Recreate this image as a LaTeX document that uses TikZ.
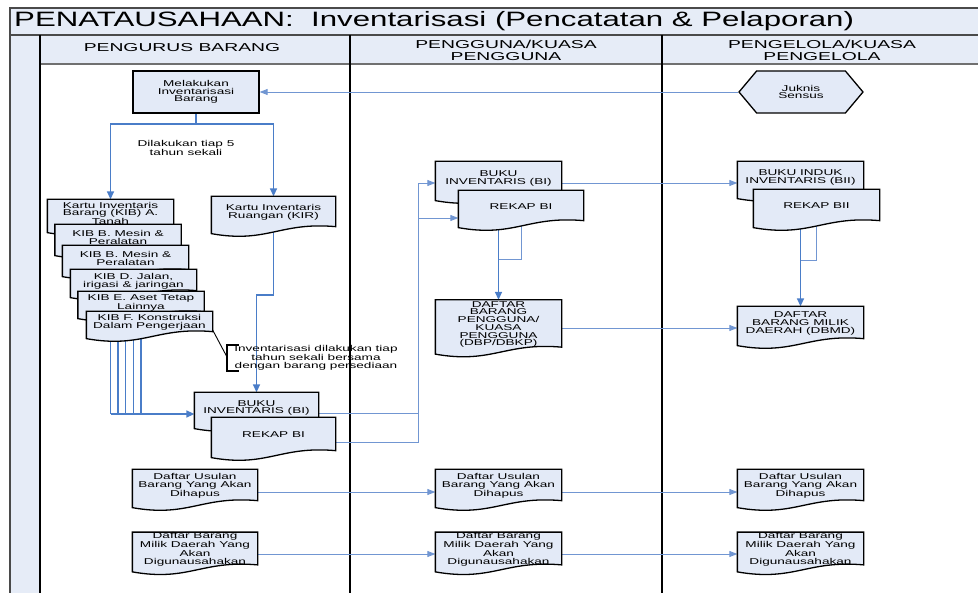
\documentclass[tikz,border=0pt]{standalone}
\usepackage{fontspec}
\setmainfont{Liberation Sans}
\newfontfamily\boxsans[FakeStretch=1.6]{Liberation Sans}
\newfontfamily\headsans[FakeStretch=1.68]{Liberation Sans}
\newfontfamily\titlesans[FakeStretch=1.5]{Liberation Sans}
\usetikzlibrary{arrows.meta,shapes.symbols}

\definecolor{paneblue}{HTML}{E6ECF7}
\definecolor{boxfill}{HTML}{E3EAF7}
\definecolor{flowblue}{HTML}{4A7DC8}
\definecolor{linkblue}{HTML}{7196D2}
\definecolor{framegray}{HTML}{4A4A4A}
\definecolor{rulegray}{HTML}{707070}

\newcommand\boxfont{\boxsans\fontsize{8.5}{7.7}\selectfont}
\newcommand\headfont{\headsans\fontsize{11.5}{12}\selectfont}
\newcommand\titlefont{\titlesans\fontsize{20.8}{24}\selectfont}

% document symbol: rectangle with a wavy lower edge
\makeatletter
\newdimen\docxa \newdimen\docya \newdimen\docxb \newdimen\docyb \newdimen\docw
\pgfdeclareshape{docpage}{
  \inheritsavedanchors[from=rectangle]
  \inheritanchorborder[from=rectangle]
  \inheritanchor[from=rectangle]{center}
  \inheritanchor[from=rectangle]{north}
  \inheritanchor[from=rectangle]{south}
  \inheritanchor[from=rectangle]{east}
  \inheritanchor[from=rectangle]{west}
  \inheritanchor[from=rectangle]{north east}
  \inheritanchor[from=rectangle]{north west}
  \inheritanchor[from=rectangle]{south east}
  \inheritanchor[from=rectangle]{south west}
  \inheritanchor[from=rectangle]{mid}
  \inheritanchor[from=rectangle]{base}
  \backgroundpath{%
    \southwest \docxa=\pgf@x \docya=\pgf@y
    \northeast \docxb=\pgf@x \docyb=\pgf@y
    \docw=\docxb \advance\docw by -\docxa
    \pgfpathmoveto{\pgfqpoint{\docxa}{\docyb}}%
    \pgfpathlineto{\pgfqpoint{\docxb}{\docyb}}%
    \pgfpathlineto{\pgfqpoint{\docxb}{\dimexpr\docya+2pt\relax}}%
    \pgfpathcurveto
      {\pgfqpoint{\dimexpr\docxa+0.55\docw\relax}{\dimexpr\docya+7pt\relax}}%
      {\pgfqpoint{\dimexpr\docxa+0.45\docw\relax}{\dimexpr\docya-15pt\relax}}%
      {\pgfqpoint{\docxa}{\dimexpr\docya-5pt\relax}}%
    \pgfpathclose
  }
}
\makeatother

\pgfdeclarelayer{background}
\pgfsetlayers{background,main}

\tikzset{
  doc/.style={shape=docpage, draw=black, line width=1.3pt, fill=boxfill,
    inner sep=0pt, align=center, font=\boxfont, minimum width=125pt},
  procbox/.style={rectangle, draw=black, line width=1.3pt, fill=boxfill,
    inner sep=0pt, align=center, font=\boxfont, minimum width=126pt, minimum height=42pt},
  prepbox/.style={signal, signal to=west and east, signal pointer angle=100,
    draw=black, line width=1.3pt, fill=boxfill, inner sep=0pt, align=center,
    font=\boxfont, minimum width=124pt, minimum height=42pt},
  flow/.style={draw=flowblue, line width=1.5pt, -{Triangle[length=8pt,width=7pt]}},
  flowplain/.style={draw=flowblue, line width=1.3pt},
  link/.style={draw=linkblue, line width=0.9pt, -{Triangle[length=8pt,width=6pt]}},
  linkplain/.style={draw=linkblue, line width=0.9pt},
  lane/.style={draw=black, line width=2pt},
}

\begin{document}
\begin{tikzpicture}[x=1pt,y=-1pt]
\useasboundingbox (0,0) rectangle (978,593);
\clip (0,0) rectangle (978,593);

% ---------- title and lane headers ----------
\node[anchor=west, font=\titlefont, inner sep=0pt] (title) at (14,21)
  {PENATAUSAHAAN:\ \ Inventarisasi (Pencatatan \& Pelaporan)};
\node[font=\headfont, align=center] (hdA) at (182,48) {PENGURUS BARANG};
\node[font=\headfont, align=center] (hdB) at (506,50) {PENGGUNA/KUASA\\PENGGUNA};
\node[font=\headfont, align=center] (hdC) at (822,50) {PENGELOLA/KUASA\\PENGELOLA};

% ---------- lane: pengurus barang ----------
\node[procbox] (mel) at (196,92) {Melakukan\\Inventarisasi\\Barang};
\node[font=\boxfont, align=center] (freq) at (186,148) {Dilakukan tiap 5\\tahun sekali};

\node[doc, minimum height=27pt] (kibA) at (110.5,213.5) {Kartu Inventaris\\Barang (KIB) A.\\Tanah};
\node[doc, minimum height=25pt] (kibB) at (118,237.5) {KIB B. Mesin \&\\Peralatan};
\node[doc, minimum height=25pt] (kibC) at (125.5,258.5) {KIB B. Mesin \&\\Peralatan};
\node[doc, minimum height=22pt] (kibD) at (133.5,281) {KIB D. Jalan,\\irigasi \& jaringan};
\node[doc, minimum height=21pt] (kibE) at (141,302.5) {KIB E. Aset Tetap\\Lainnya};
\node[doc, minimum height=21pt] (kibF) at (149.5,322.5) {KIB F. Konstruksi\\Dalam Pengerjaan};

\node[doc, minimum width=123pt, minimum height=31pt] (kir) at (273.5,212.5) {Kartu Inventaris\\Ruangan (KIR)};

\node[font=\boxfont, align=center, inner sep=0pt] (note) at (316,357.5)
  {Inventarisasi dilakukan tiap\\tahun sekali bersama\\dengan barang persediaan};
\coordinate (noteL) at (227,357);

\node[doc, minimum width=123pt, minimum height=30pt] (bip) at (256.5,408) {BUKU\\INVENTARIS (BI)};
\node[doc, minimum width=123pt, minimum height=34pt] (rkp) at (273.5,435) {REKAP BI};

\node[doc, minimum width=124pt, minimum height=32pt] (usA) at (195,486) {Daftar Usulan\\Barang Yang Akan\\Dihapus};
\node[doc, minimum width=124pt, minimum height=33pt] (guA) at (195,549.5) {Daftar Barang\\Milik Daerah Yang\\Akan\\Digunausahakan};

% ---------- lane: pengguna / kuasa pengguna ----------
\node[doc, minimum height=33pt] (big) at (498.5,178.5) {BUKU\\INVENTARIS (BI)};
\node[doc, minimum width=124pt, minimum height=31pt] (rkg) at (521,206.5) {REKAP BI};
\node[doc, minimum height=48pt] (dbp) at (498.5,324.5) {DAFTAR\\BARANG\\PENGGUNA/\\KUASA\\PENGGUNA\\(DBP/DBKP)};
\node[doc, minimum height=32pt] (usB) at (498.5,486) {Daftar Usulan\\Barang Yang Akan\\Dihapus};
\node[doc, minimum height=33pt] (guB) at (498.5,549.5) {Daftar Barang\\Milik Daerah Yang\\Akan\\Digunausahakan};

% ---------- lane: pengelola / kuasa pengelola ----------
\node[prepbox] (juk) at (801,92) {Juknis\\Sensus};
\node[doc, minimum height=31pt] (bii) at (800.5,177.5) {BUKU INDUK\\INVENTARIS (BII)};
\node[doc, minimum height=32pt] (rbii) at (816.5,206) {REKAP BII};
\node[doc, minimum height=33pt] (dbmd) at (800.5,323.5) {DAFTAR\\BARANG MILIK\\DAERAH (DBMD)};
\node[doc, minimum height=32pt] (usC) at (800.5,486) {Daftar Usulan\\Barang Yang Akan\\Dihapus};
\node[doc, minimum height=33pt] (guC) at (800.5,549.5) {Daftar Barang\\Milik Daerah Yang\\Akan\\Digunausahakan};

\begin{pgfonlayer}{background}
  % swimlane frame
  \fill[paneblue] (10,8) rectangle (990,64);
  \fill[paneblue] (10,35) rectangle (40,600);
  \draw[framegray, line width=2pt] (10,600) -- (10,8) -- (990,8);
  \draw[framegray, line width=1.5pt] (10,35) -- (990,35);
  \draw[rulegray, line width=2.5pt] (40,64) -- (990,64);
  \draw[lane] (40,35) -- (40,600);
  \draw[lane] (350,35) -- (350,600);
  \draw[lane] (662,35) -- (662,600);

  % pengurus barang
  \draw[link] (juk.west) -- (mel.east);
  \coordinate (split) at (196,124);
  \draw[flowplain] (mel.south) -- (split);
  \draw[flow] (split) -| (kibA.north);
  \draw[flow] (split) -| (kir.north);

  \coordinate (kbus) at (110.5,414);
  \foreach \k in {kibA,kibB,kibC,kibD,kibE}
    \draw[flowplain] (\k.south) -- (\k.south |- kbus);
  \draw[flow] (kibA.south |- kbus) -- (bip.west |- kbus);

  \coordinate (kirjog) at (273.5,295);
  \draw[flow] (kir.south) -- (kirjog) -| (bip.north);

  \draw[black, line width=0.9pt] (kibF.east |- 0,330) -- (noteL);
  \draw[black, line width=1.1pt] (239,345) -- (227,345) -- (227,371) -- (239,371);

  % bus to the pengguna lane
  \coordinate (busbot) at (418,442);
  \coordinate (bustop) at (418,183);
  \draw[linkplain] (bip.east |- 0,413) -- (busbot |- 0,413);
  \draw[linkplain] (rkp.east |- busbot) -- (busbot) -- (bustop);
  \draw[link] (bustop) -- (big.west |- bustop);
  \draw[link] (busbot |- 0,218) -- (rkg.west |- 0,218);

  % pengguna lane
  \draw[link] (big.east |- 0,183) -- (bii.west |- 0,183);
  \draw[flow] (rkg.south -| dbp.north) -- (dbp.north);
  \draw[linkplain] (rkg.south) -- (rkg.south |- 0,259) -- (dbp.north |- 0,259);
  \draw[link] (dbp.east |- 0,328) -- (dbmd.west |- 0,328);

  % pengelola lane
  \draw[flow] (rbii.south -| dbmd.north) -- (dbmd.north);
  \draw[linkplain] (rbii.south) -- (rbii.south |- 0,260) -- (dbmd.north |- 0,260);

  % lists passed on from lane to lane
  \draw[link] (usA.east |- 0,492) -- (usB.west |- 0,492);
  \draw[link] (usB.east |- 0,492) -- (usC.west |- 0,492);
  \draw[link] (guA.east |- 0,554) -- (guB.west |- 0,554);
  \draw[link] (guB.east |- 0,554) -- (guC.west |- 0,554);
\end{pgfonlayer}
\end{tikzpicture}
\end{document}
